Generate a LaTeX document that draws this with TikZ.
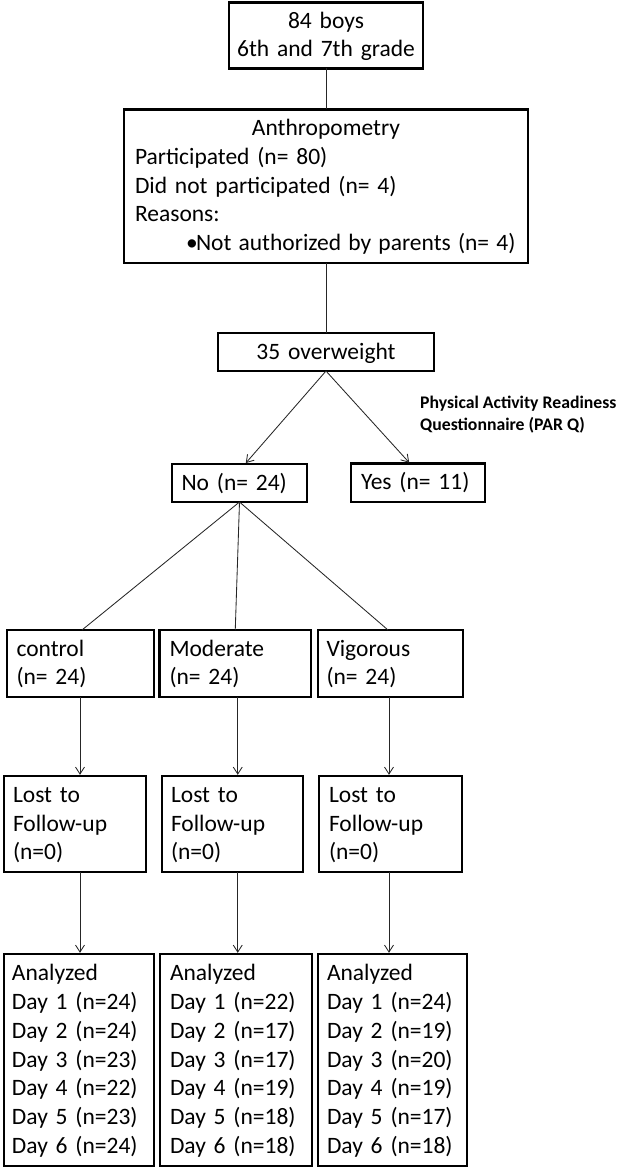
\documentclass[tikz,border=0pt]{standalone}
\usepackage{fontspec}
\setmainfont{Carlito}
\usetikzlibrary{arrows.meta,calc}
\newcommand{\sst}{\rule[-4.75pt]{0pt}{23.5pt}}
\begin{document}
\begin{tikzpicture}[x=1pt,y=-1pt,
  box/.style={draw, line width=2.6pt, rectangle, outer sep=0pt, inner ysep=0pt,
    anchor=north west, font=\fontsize{23.5pt}{28.7pt}\selectfont, align=left},
  conn/.style={line width=0.85pt, draw=black!85},
  arr/.style={conn, shorten >=1.2pt, -{Straight Barb[length=7pt,width=9pt]}}
]
\useasboundingbox (0,0) rectangle (620,1169);

% top part
\node[box, align=center, minimum width=194pt, minimum height=66pt, text width=178pt, inner xsep=8pt]
  (top) at (229,2.5) {\sst 84 boys\\\sst 6th and 7th grade};
\node[box, minimum width=404pt, minimum height=153.5pt, text width=382pt, inner xsep=11pt]
  (anthro) at (124,109.5) {\sst\makebox[\linewidth][c]{Anthropometry}\\
  \sst Participated (n= 80)\\
  \sst Did not participated (n= 4)\\
  \sst Reasons:\\
  \sst\makebox[\linewidth][l]{\spaceskip=7.2pt\hspace*{51pt}\makebox[10pt][l]{•}Not authorized by parents (n= 4)}};
\node[box, align=center, minimum width=216pt, minimum height=38pt, text width=196pt, inner xsep=10pt]
  (ow) at (218,333) {\sst 35 overweight};
\node[box, minimum width=135pt, minimum height=38pt, text width=116pt, inner xsep=9.5pt]
  (no) at (172,464) {\sst No (n= 24)};
\node[box, minimum width=134pt, minimum height=38.5pt, text width=114pt, inner xsep=10pt]
  (yes) at (351,463.5) {\sst Yes (n= 11)};
\node[anchor=north west, inner sep=0pt, align=left,
  font=\fontsize{17.7pt}{21.6pt}\selectfont\bfseries]
  (parq) at (420,396) {Physical Activity Readiness\\Questionnaire (PAR Q)};

% groups
\node[box, minimum width=147pt, minimum height=67pt, text width=128pt, inner xsep=9.5pt]
  (ctl) at (7,630) {\sst control\\\sst (n= 24)};
\node[box, minimum width=151.5pt, minimum height=67pt, text width=131.5pt, inner xsep=10pt]
  (mod) at (159.5,630) {\sst Moderate\\\sst (n= 24)};
\node[box, minimum width=145pt, minimum height=67pt, text width=128pt, inner xsep=8.5pt]
  (vig) at (318,630) {\sst Vigorous\\\sst (n= 24)};

% lost to follow-up
\node[box, minimum width=142pt, minimum height=96pt, text width=124pt, inner xsep=9pt]
  (lc) at (4,776) {\sst Lost to\\\sst Follow-up\\\sst (n=0)};
\node[box, minimum width=141pt, minimum height=96pt, text width=123pt, inner xsep=9pt]
  (lm) at (162,776) {\sst Lost to\\\sst Follow-up\\\sst (n=0)};
\node[box, minimum width=143pt, minimum height=96pt, text width=123pt, inner xsep=10pt]
  (lv) at (319,776) {\sst Lost to\\\sst Follow-up\\\sst (n=0)};

% analyzed
\node[box, minimum width=150pt, minimum height=212pt, text width=134pt, inner xsep=8pt]
  (ac) at (4,954) {\sst Analyzed\\\sst Day 1 (n=24)\\\sst Day 2 (n=24)\\\sst Day 3 (n=23)\\\sst Day 4 (n=22)\\\sst Day 5 (n=23)\\\sst Day 6 (n=24)};
\node[box, minimum width=152pt, minimum height=212pt, text width=132pt, inner xsep=10pt]
  (am) at (160,954) {\sst Analyzed\\\sst Day 1 (n=22)\\\sst Day 2 (n=17)\\\sst Day 3 (n=17)\\\sst Day 4 (n=19)\\\sst Day 5 (n=18)\\\sst Day 6 (n=18)};
\node[box, minimum width=149pt, minimum height=212pt, text width=131pt, inner xsep=9pt]
  (av) at (318,954) {\sst Analyzed\\\sst Day 1 (n=24)\\\sst Day 2 (n=19)\\\sst Day 3 (n=20)\\\sst Day 4 (n=19)\\\sst Day 5 (n=17)\\\sst Day 6 (n=18)};

% connectors
\draw[conn] (top.south) -- (anthro.north);
\draw[conn] (anthro.south) -- (ow.north);
\draw[arr] (ow.south) -- ([xshift=5.5pt]no.north);
\draw[arr] (ow.south) -- ([xshift=-8pt]yes.north);
\draw[conn] (no.south) -- ([xshift=1.5pt]ctl.north);
\draw[conn] (no.south) -- (mod.north);
\draw[conn] (no.south) -- ([xshift=-2.5pt]vig.north);

\coordinate (cx) at ([xshift=-0.5pt]ctl.south);
\coordinate (mx) at ([xshift=2.5pt]mod.south);
\coordinate (vx) at ([xshift=-1.5pt]vig.south);
\draw[arr] (cx) -- (cx |- lc.north);
\draw[arr] (mx) -- (mx |- lm.north);
\draw[arr] (vx) -- (vx |- lv.north);
\draw[arr] (lc.south -| cx) -- (ac.north -| cx);
\draw[arr] (lm.south -| mx) -- (am.north -| mx);
\draw[arr] (lv.south -| vx) -- (av.north -| vx);
\end{tikzpicture}
\end{document}
